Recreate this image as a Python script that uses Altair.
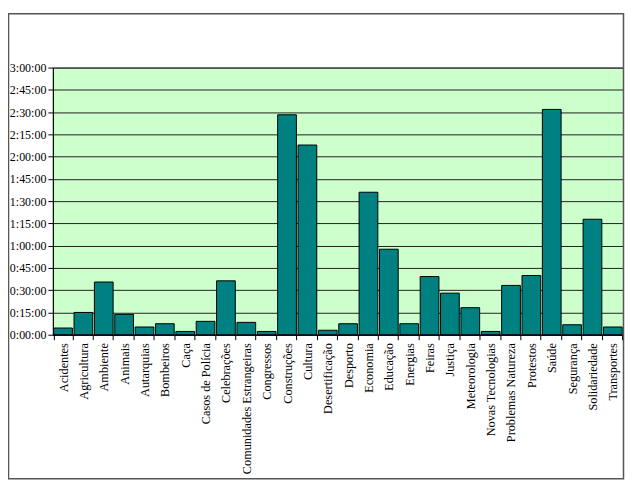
import altair as alt
import pandas as pd

categories = ["Acidentes", "Agricultura", "Ambiente", "Animais", "Autarquias", "Bombeiros",
              "Caça", "Casos de Polícia", "Celebrações", "Comunidades Estrangeiras",
              "Congressos", "Construções", "Cultura", "Desertificação", "Desporto",
              "Economia", "Educação", "Energias", "Feiras", "Justiça", "Meteorologia",
              "Novas Tecnologias", "Problemas Natureza", "Protestos", "Saúde",
              "Segurança", "Solidariedade", "Transportes"]
# duration in minutes
minutes = [4.5, 15, 35.5, 13.7, 5.2, 7.4, 2.2, 9, 36.3, 8.3, 2.2, 148.2, 127.8, 3,
           7.4, 96, 57.6, 7.4, 39.2, 28, 18.2, 2.2, 33.2, 39.9, 151.8, 6.7, 77.8, 5.2]
tick_values = [0, 15, 30, 45, 60, 75, 90, 105, 120, 135, 150, 165, 180]

df = pd.DataFrame({"cat": categories, "min": minutes})

W, H = 572, 268
FONT = "Liberation Serif"

bars = alt.Chart(df).mark_bar(color="#008080", stroke="black", strokeWidth=1).encode(
    x=alt.X("cat:N", sort=None, title=None,
            scale=alt.Scale(paddingInner=0.08, paddingOuter=0.04),
            axis=alt.Axis(labelAngle=-90, labelFont=FONT, labelFontSize=12.3,
                          labelColor="black", tickBand="extent", tickSize=5,
                          tickColor="black", domainColor="black", labelPadding=3)),
    y=alt.Y("min:Q", title=None,
            scale=alt.Scale(domain=[0, 180], nice=False),
            axis=alt.Axis(values=tick_values,
                          labelExpr="utcFormat(datum.value*60000, '%-H:%M:%S')",
                          labelFont=FONT, labelFontSize=12, labelColor="black",
                          grid=True, gridColor="#222222", gridWidth=1,
                          tickSize=5, tickColor="black", domainColor="black",
                          labelPadding=2))
)

border = alt.Chart(alt.Data(values=[{"a": 1}])).mark_rect(
    fill=None, stroke="#555555", strokeWidth=1.5, clip=False
).encode(
    x=alt.value(-44.5), x2=alt.value(572.5), y=alt.value(-54), y2=alt.value(412.5)
)

chart = alt.layer(bars, border).properties(
    width=W, height=H,
    autosize=alt.AutoSizeParams(type="none"),
    padding={"left": 45, "top": 59, "right": 2, "bottom": 146},
    background="white"
).configure_view(fill="#CCFFCC", stroke="#444444", strokeWidth=1)

chart.save("out.html", embed_options={"renderer": "svg", "actions": False})
